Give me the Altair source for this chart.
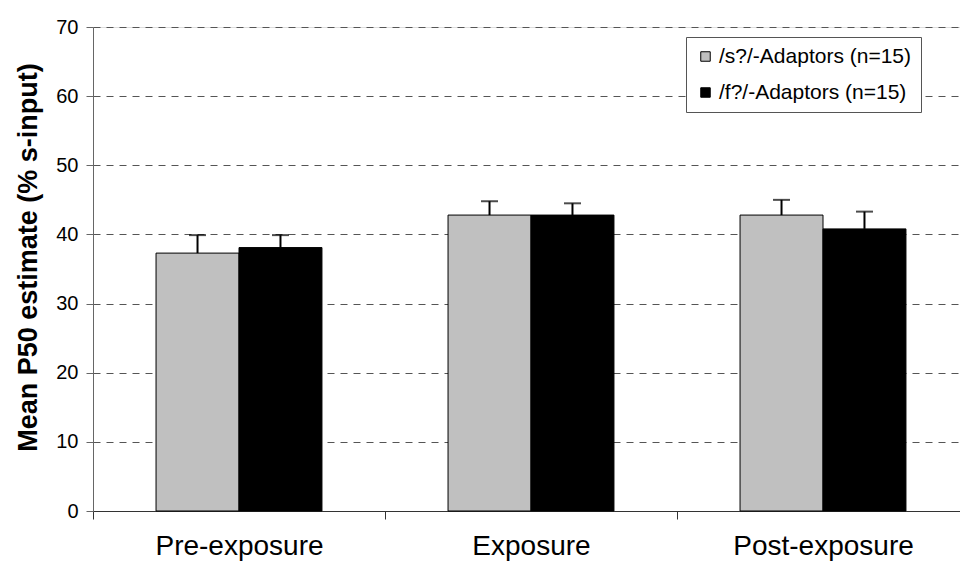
import altair as alt
import pandas as pd

categories = ["Pre-exposure", "Exposure", "Post-exposure"]
groups = ["/s?/-Adaptors (n=15)", "/f?/-Adaptors (n=15)"]
s_means = [37.3, 42.8, 42.8]
s_err = [2.6, 2.0, 2.2]
f_means = [38.1, 42.8, 40.8]
f_err = [1.8, 1.7, 2.5]
colors = ["#c0c0c0", "#000000"]
y_ticks = [0, 10, 20, 30, 40, 50, 60, 70]

rows = []
for i, c in enumerate(categories):
    rows.append({"cat": c, "grp": groups[0], "mean": s_means[i], "top": s_means[i] + s_err[i]})
    rows.append({"cat": c, "grp": groups[1], "mean": f_means[i], "top": f_means[i] + f_err[i]})
df = pd.DataFrame(rows)

FONT = "Liberation Sans"

x_enc = alt.X(
    "cat:N",
    sort=categories,
    scale=alt.Scale(domain=categories, range=[0, 876], paddingInner=0, paddingOuter=0),
    axis=alt.Axis(
        title=None, labelAngle=0, labelFontSize=28, labelFont=FONT, labelColor="black",
        tickBand="extent", tickSize=8, tickColor="#333", domainColor="#333",
        labelPadding=13, grid=False, labelLimit=500,
    ),
)
xo_enc = alt.XOffset("grp:N", sort=groups,
                     scale=alt.Scale(domain=groups, paddingInner=0, paddingOuter=0.76))

y_scale = alt.Scale(domain=[0, 70], nice=False, zero=True)

bars = alt.Chart(df).mark_bar(stroke="black", strokeWidth=1).encode(
    x=x_enc,
    xOffset=xo_enc,
    y=alt.Y(
        "mean:Q", scale=y_scale,
        axis=alt.Axis(
            title="Mean P50 estimate (% s-input)", titleFont=FONT, titleFontSize=27,
            titleFontWeight="bold", titleColor="black", titleX=-65, titleY=230,
            titleAngle=270, titleAlign="center", titleBaseline="middle",
            values=y_ticks, labelFontSize=20, labelFont=FONT, labelColor="black",
            tickSize=7, tickColor="#666", domainColor="#666", labelPadding=8,
            grid=True, gridColor="#555555", gridDash=[7, 6], gridWidth=1,
        ),
    ),
    color=alt.Color(
        "grp:N", sort=groups,
        scale=alt.Scale(domain=groups, range=colors),
        legend=alt.Legend(
            title=None, orient="none", legendX=593, legendY=10,
            labelFont=FONT, labelFontSize=21, labelColor="black",
            symbolType="square", symbolSize=90, symbolStrokeColor="black",
            symbolStrokeWidth=1, symbolOpacity=1,
            strokeColor="#555", fillColor="white", padding=9, rowPadding=14,
            labelOffset=3, labelLimit=400,
        ),
    ),
)

rules = alt.Chart(df).mark_rule(color="black", strokeWidth=2).encode(
    x=alt.X("cat:N", sort=categories),
    xOffset=alt.XOffset("grp:N", sort=groups),
    y=alt.Y("mean:Q"),
    y2="top:Q",
)

caps = alt.Chart(df).mark_tick(color="black", thickness=2, size=17, orient="horizontal").encode(
    x=alt.X("cat:N", sort=categories),
    xOffset=alt.XOffset("grp:N", sort=groups),
    y=alt.Y("top:Q"),
)

chart = alt.layer(bars, rules, caps).properties(
    width=867, height=484,
    autosize=alt.AutoSizeParams(type="none"),
    padding={"left": 93, "top": 27, "right": 0, "bottom": 54},
).configure_view(stroke=None).configure(background="white")

chart.save("out.html", embed_options={"renderer": "svg", "actions": False})
